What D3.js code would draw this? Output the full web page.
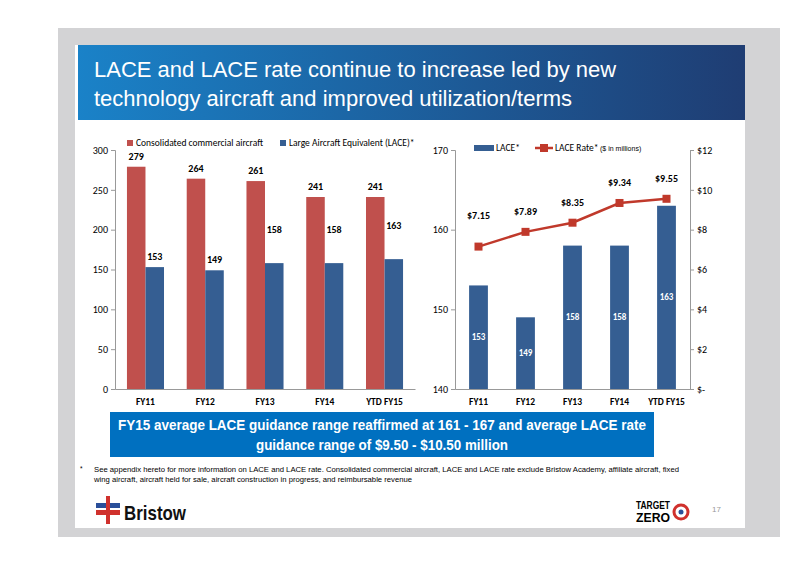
<!DOCTYPE html><html><head><meta charset="utf-8">
<script src="https://cdn.jsdelivr.net/npm/d3@7"></script>
<style>body{margin:0;background:#fff}</style></head><body>
<svg id="c" width="800" height="565"></svg>
<script>
const categories=["FY11","FY12","FY13","FY14","YTD FY15"];
const consolidated=[279,264,261,241,241];
const lace=[153,149,158,158,163];
const laceRate=[7.15,7.89,8.35,9.34,9.55];
const leftTicks=[0,50,100,150,200,250,300];
const rightTicksL=[140,150,160,170];
const rightTicksR=[0,2,4,6,8,10,12];
const red="#C0504D",blue="#355E92",rateRed="#C0392B";
const svg=d3.select("#c");
const f="Liberation Sans, Arial, sans-serif";
const nf=f;
svg.append("rect").attr("x",58).attr("y",28).attr("width",722).attr("height",509).attr("fill","#d3d3d5");
svg.append("rect").attr("x",75).attr("y",45).attr("width",670).attr("height",483).attr("fill","#fff");
const g=svg.append("defs").append("linearGradient").attr("id","tg");
g.append("stop").attr("offset","0").attr("stop-color","#1a82c8");
g.append("stop").attr("offset","1").attr("stop-color","#1f3d73");
svg.append("rect").attr("x",78).attr("y",45).attr("width",667).attr("height",75).attr("fill","url(#tg)");
svg.append("text").attr("x",94).attr("y",77).attr("fill","#fff").attr("font-family",f).attr("font-size",22).text("LACE and LACE rate continue to increase led by new");
svg.append("text").attr("x",94).attr("y",106).attr("fill","#fff").attr("font-family",f).attr("font-size",22).text("technology aircraft and improved utilization/terms");
const cf="Carlito, Calibri, Liberation Sans, sans-serif";
// left chart
const x1=d3.scaleBand().domain(categories).range([115,415]).paddingInner(0.38).paddingOuter(0.2);
const y1=d3.scaleLinear().domain([0,300]).range([389,150]);
const L=svg.append("g");
L.append("g").attr("transform","translate(115,0)").call(d3.axisLeft(y1).tickValues(leftTicks).tickSize(4)).call(a=>{a.select(".domain").attr("stroke","#999");a.selectAll("line").attr("stroke","#999");a.selectAll("text").attr("font-family",cf).attr("font-size",10).attr("fill","#000")});
L.append("g").attr("transform","translate(0,389)").call(d3.axisBottom(x1).tickSize(0).tickPadding(9)).call(a=>{a.select(".domain").attr("stroke","#999");a.selectAll("text").attr("font-family",cf).attr("font-size",9.5).attr("font-weight","bold").attr("fill","#000")});
const bw=x1.bandwidth()/2;
categories.forEach((c,i)=>{
 L.append("rect").attr("x",x1(c)).attr("y",y1(consolidated[i])).attr("width",bw).attr("height",389-y1(consolidated[i])).attr("fill",red);
 L.append("rect").attr("x",x1(c)+bw).attr("y",y1(lace[i])).attr("width",bw).attr("height",389-y1(lace[i])).attr("fill",blue);
 L.append("text").attr("x",x1(c)+bw/2).attr("y",y1(consolidated[i])-7).attr("text-anchor","middle").attr("font-family",cf).attr("font-size",10).attr("font-weight","bold").text(consolidated[i]);
 L.append("text").attr("x",x1(c)+bw*1.5).attr("y",y1(lace[i])-(i<2?7:30)).attr("text-anchor","middle").attr("font-family",cf).attr("font-size",10).attr("font-weight","bold").text(lace[i]);
});
L.append("rect").attr("x",127).attr("y",140).attr("width",6).attr("height",6).attr("fill",red);
L.append("text").attr("x",136).attr("y",146).attr("font-family",cf).attr("font-size",9.5).text("Consolidated commercial aircraft");
L.append("rect").attr("x",280).attr("y",140).attr("width",6).attr("height",6).attr("fill",blue);
L.append("text").attr("x",289).attr("y",146).attr("font-family",cf).attr("font-size",9.5).text("Large Aircraft Equivalent (LACE)*");
// right chart
const x2=d3.scaleBand().domain(categories).range([455,690]).paddingInner(0.6).paddingOuter(0.3);
const y2=d3.scaleLinear().domain([140,170]).range([389,150]);
const y3=d3.scaleLinear().domain([0,12]).range([389,150]);
const R=svg.append("g");
R.append("g").attr("transform","translate(455,0)").call(d3.axisLeft(y2).tickValues(rightTicksL).tickSize(4)).call(a=>{a.select(".domain").attr("stroke","#999");a.selectAll("line").attr("stroke","#999");a.selectAll("text").attr("font-family",cf).attr("font-size",10).attr("fill","#000")});
R.append("g").attr("transform","translate(690,0)").call(d3.axisRight(y3).tickValues(rightTicksR).tickSize(4).tickFormat(d=>d===0?"$-":"$"+d)).call(a=>{a.select(".domain").attr("stroke","#999");a.selectAll("line").attr("stroke","#999");a.selectAll("text").attr("font-family",cf).attr("font-size",10).attr("fill","#000")});
R.append("g").attr("transform","translate(0,389)").call(d3.axisBottom(x2).tickSize(0).tickPadding(9)).call(a=>{a.select(".domain").attr("stroke","#999");a.selectAll("text").attr("font-family",cf).attr("font-size",9.5).attr("font-weight","bold").attr("fill","#000")});
categories.forEach((c,i)=>{
 R.append("rect").attr("x",x2(c)).attr("y",y2(lace[i])).attr("width",x2.bandwidth()).attr("height",389-y2(lace[i])).attr("fill",blue);
 R.append("text").attr("x",x2(c)+x2.bandwidth()/2).attr("y",(y2(lace[i])+389)/2+3).attr("text-anchor","middle").attr("fill","#fff").attr("font-family",cf).attr("font-size",9).attr("font-weight","bold").text(lace[i]);
});
const cx=c=>x2(c)+x2.bandwidth()/2;
R.append("path").datum(laceRate).attr("d",d3.line().x((d,i)=>cx(categories[i])).y(d=>y3(d))).attr("fill","none").attr("stroke",rateRed).attr("stroke-width",2.5);
laceRate.forEach((d,i)=>{
 R.append("rect").attr("x",cx(categories[i])-4).attr("y",y3(d)-4).attr("width",8).attr("height",8).attr("fill",rateRed);
 R.append("text").attr("x",cx(categories[i])).attr("y",y3(d)-(i==0?28:17)).attr("text-anchor","middle").attr("font-family",cf).attr("font-size",10).attr("font-weight","bold").text("$"+d.toFixed(2));
});
R.append("rect").attr("x",474).attr("y",145).attr("width",20).attr("height",6).attr("fill",blue);
R.append("text").attr("x",496).attr("y",151).attr("font-family",cf).attr("font-size",9.5).text("LACE*");
R.append("line").attr("x1",535).attr("x2",553).attr("y1",148).attr("y2",148).attr("stroke",rateRed).attr("stroke-width",2.5);
R.append("rect").attr("x",540).attr("y",144).attr("width",8).attr("height",8).attr("fill",rateRed);
R.append("text").attr("x",555).attr("y",151).attr("font-family",cf).attr("font-size",9.5).text("LACE Rate*");
R.append("text").attr("x",600).attr("y",151).attr("font-family",f).attr("font-size",7).text("($ in millions)");
// banner
svg.append("rect").attr("x",110).attr("y",412).attr("width",544).attr("height",45).attr("fill","#0070C0");
svg.append("text").attr("x",118).attr("y",430).attr("fill","#fff").attr("font-family",nf).attr("font-size",14.5).attr("font-weight","bold").attr("textLength",528).attr("lengthAdjust","spacingAndGlyphs").text("FY15 average LACE guidance range reaffirmed at 161 - 167 and average LACE rate");
svg.append("text").attr("x",256).attr("y",450).attr("fill","#fff").attr("font-family",nf).attr("font-size",14.5).attr("font-weight","bold").attr("textLength",252).attr("lengthAdjust","spacingAndGlyphs").text("guidance range of $9.50 - $10.50 million");
svg.append("text").attr("x",80).attr("y",471).attr("font-family",f).attr("font-size",6.5).text("*");
svg.append("text").attr("x",94).attr("y",472).attr("font-family",nf).attr("font-size",7).attr("textLength",585).attr("lengthAdjust","spacingAndGlyphs").text("See appendix hereto for more information on LACE and LACE rate. Consolidated commercial aircraft, LACE and LACE rate exclude Bristow Academy, affiliate aircraft, fixed");
svg.append("text").attr("x",94).attr("y",482).attr("font-family",nf).attr("font-size",7).attr("textLength",318).attr("lengthAdjust","spacingAndGlyphs").text("wing aircraft, aircraft held for sale, aircraft construction in progress, and reimbursable revenue");
// logos
svg.append("rect").attr("x",96).attr("y",503).attr("width",24).attr("height",5).attr("fill","#2a4f9a");
svg.append("rect").attr("x",96).attr("y",510).attr("width",24).attr("height",5).attr("fill","#d0312d");
svg.append("rect").attr("x",106).attr("y",496).attr("width",4).attr("height",28).attr("fill","#d0312d");
svg.append("text").attr("x",124).attr("y",520).attr("font-family",nf).attr("font-size",21).attr("font-weight","bold").attr("fill","#111").attr("textLength",62).attr("lengthAdjust","spacingAndGlyphs").text("Bristow");
svg.append("text").attr("x",636).attr("y",509).attr("font-family",nf).attr("font-size",10).attr("font-weight","bold").attr("textLength",34).attr("lengthAdjust","spacingAndGlyphs").text("TARGET");
svg.append("text").attr("x",636).attr("y",522).attr("font-family",nf).attr("font-size",13).attr("font-weight","bold").attr("textLength",34).attr("lengthAdjust","spacingAndGlyphs").text("ZERO");
svg.append("circle").attr("cx",681).attr("cy",512).attr("r",7).attr("fill","none").attr("stroke","#d0312d").attr("stroke-width",3);
svg.append("circle").attr("cx",681).attr("cy",512).attr("r",2.5).attr("fill","#2a4f9a");
svg.append("text").attr("x",712).attr("y",512).attr("font-family",f).attr("font-size",8).attr("fill","#999").text("17");
</script></body></html>
